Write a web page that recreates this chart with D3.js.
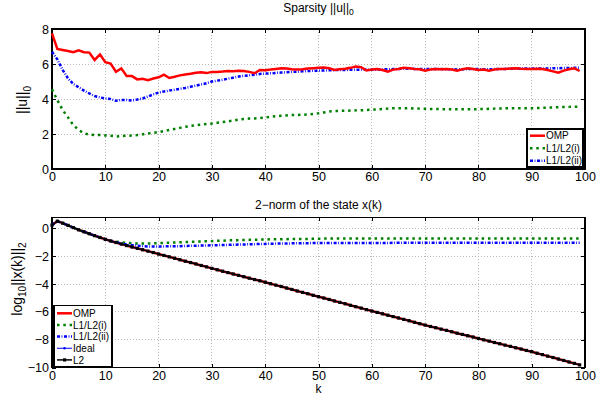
<!DOCTYPE html>
<html>
<head>
<meta charset="utf-8">
<style>
    body { margin: 0; background: #fff; }
    svg { font-family: "Liberation Sans", Arial, sans-serif; }
    .grid line {
        stroke: #b8b8b8;
        stroke-dasharray: 1,2;
        shape-rendering: crispEdges;
    }
    .frame {
        fill: none;
        stroke: #000;
        stroke-width: 1.5;
        shape-rendering: crispEdges;
    }
    .legend rect.box {
        fill: #fff;
        stroke: #000;
        stroke-width: 1.5;
        shape-rendering: crispEdges;
    }
</style>
</head>
<body>
<script src="https://cdn.jsdelivr.net/npm/d3@7/dist/d3.min.js"></script>
<script>
    // tick labels
    var kTicks = [0, 10, 20, 30, 40, 50, 60, 70, 80, 90, 100];
    var sparsityTicks = [0, 2, 4, 6, 8];
    var normTicks = [-10, -8, -6, -4, -2, 0];

    // top panel: sparsity ||u||_0, one value per k = 0..99
    var sparsityOMP = [7.75, 6.86, 6.8, 6.74, 6.67, 6.78, 6.67, 6.65, 6.23, 6.55,
        6.1, 6.02, 5.56, 5.75, 5.31, 5.31, 5.12, 5.15, 5.07, 5.17,
        5.24, 5.39, 5.2, 5.27, 5.35, 5.4, 5.44, 5.5, 5.53, 5.48,
        5.55, 5.55, 5.57, 5.6, 5.58, 5.62, 5.6, 5.55, 5.47, 5.66,
        5.65, 5.68, 5.72, 5.75, 5.74, 5.7, 5.68, 5.7, 5.74, 5.76,
        5.78, 5.8, 5.76, 5.66, 5.7, 5.73, 5.78, 5.85, 5.82, 5.63,
        5.68, 5.72, 5.66, 5.56, 5.68, 5.72, 5.79, 5.76, 5.72, 5.7,
        5.62, 5.68, 5.71, 5.7, 5.71, 5.68, 5.62, 5.7, 5.75, 5.72,
        5.66, 5.68, 5.62, 5.68, 5.71, 5.72, 5.74, 5.75, 5.73, 5.72,
        5.71, 5.73, 5.72, 5.66, 5.58, 5.5, 5.62, 5.7, 5.75, 5.6];
    var sparsityL1L2i = [4.55, 3.94, 3.37, 2.95, 2.51, 2.23, 2.04, 1.97, 1.94, 1.94,
        1.92, 1.9, 1.86, 1.88, 1.9, 1.91, 1.94, 1.98, 2.03, 2.07,
        2.11, 2.17, 2.23, 2.29, 2.35, 2.41, 2.46, 2.5, 2.54, 2.57,
        2.6, 2.64, 2.68, 2.72, 2.77, 2.82, 2.86, 2.88, 2.89, 2.91,
        2.94, 2.98, 3.02, 3.04, 3.06, 3.08, 3.09, 3.1, 3.12, 3.15,
        3.18, 3.23, 3.28, 3.31, 3.32, 3.33, 3.34, 3.35, 3.36, 3.37,
        3.39, 3.41, 3.43, 3.45, 3.47, 3.47, 3.47, 3.47, 3.46, 3.45,
        3.44, 3.43, 3.43, 3.42, 3.42, 3.42, 3.41, 3.41, 3.41, 3.41,
        3.42, 3.43, 3.44, 3.45, 3.46, 3.47, 3.47, 3.47, 3.47, 3.47,
        3.47, 3.48, 3.5, 3.51, 3.52, 3.53, 3.54, 3.55, 3.56, 3.56];
    var sparsityL1L2ii = [6.7, 6.27, 5.66, 5.18, 4.86, 4.67, 4.48, 4.32, 4.17, 4.09,
        4.03, 4.0, 3.9, 3.94, 3.94, 3.92, 3.97, 4.03, 4.14, 4.26,
        4.37, 4.43, 4.48, 4.53, 4.58, 4.63, 4.7, 4.76, 4.83, 4.9,
        5.0, 5.05, 5.1, 5.16, 5.22, 5.28, 5.32, 5.35, 5.39, 5.43,
        5.45, 5.47, 5.49, 5.51, 5.53, 5.55, 5.56, 5.58, 5.6, 5.61,
        5.62, 5.63, 5.64, 5.65, 5.66, 5.66, 5.67, 5.67, 5.68, 5.68,
        5.67, 5.68, 5.69, 5.7, 5.71, 5.72, 5.74, 5.73, 5.72, 5.72,
        5.71, 5.72, 5.72, 5.71, 5.7, 5.7, 5.69, 5.7, 5.71, 5.72,
        5.71, 5.7, 5.7, 5.71, 5.72, 5.72, 5.73, 5.73, 5.74, 5.74,
        5.75, 5.75, 5.74, 5.75, 5.76, 5.76, 5.77, 5.77, 5.78, 5.78];

    // bottom panel: log10 ||x(k)||_2, one value per k = 0..99
    // OMP, Ideal and L2 lie on top of each other in the picture, so they share one reading
    var normStable = [0.24, 0.52, 0.38, 0.22, 0.06, -0.1, -0.24, -0.38, -0.52, -0.65,
        -0.78, -0.9, -1.01, -1.12, -1.23, -1.33, -1.43, -1.53, -1.63, -1.73,
        -1.84, -1.94, -2.04, -2.14, -2.25, -2.35, -2.45, -2.55, -2.66, -2.76,
        -2.87, -2.97, -3.07, -3.17, -3.27, -3.37, -3.47, -3.57, -3.67, -3.76,
        -3.86, -3.97, -4.07, -4.17, -4.28, -4.38, -4.49, -4.59, -4.69, -4.8,
        -4.9, -5.0, -5.1, -5.21, -5.31, -5.41, -5.52, -5.62, -5.72, -5.83,
        -5.93, -6.03, -6.13, -6.23, -6.33, -6.43, -6.53, -6.63, -6.74, -6.84,
        -6.94, -7.04, -7.13, -7.23, -7.32, -7.42, -7.52, -7.61, -7.71, -7.8,
        -7.9, -8.0, -8.09, -8.19, -8.28, -8.38, -8.47, -8.57, -8.66, -8.76,
        -8.85, -8.96, -9.06, -9.17, -9.27, -9.38, -9.48, -9.59, -9.69, -9.8];
    var normOMP = normStable;
    var normIdeal = normStable;
    var normL2 = normStable;
    var normL1L2i = [0.24, 0.52, 0.38, 0.22, 0.06, -0.1, -0.24, -0.38, -0.52, -0.65,
        -0.78, -0.88, -0.95, -1.0, -1.04, -1.07, -1.08, -1.09, -1.08, -1.07,
        -1.05, -1.04, -1.02, -1.01, -0.99, -0.98, -0.96, -0.95, -0.94, -0.92,
        -0.91, -0.89, -0.88, -0.86, -0.85, -0.84, -0.83, -0.82, -0.81, -0.8,
        -0.79, -0.78, -0.78, -0.77, -0.77, -0.76, -0.76, -0.75, -0.75, -0.74,
        -0.74, -0.73, -0.73, -0.73, -0.73, -0.73, -0.73, -0.73, -0.73, -0.73,
        -0.73, -0.72, -0.72, -0.72, -0.72, -0.72, -0.72, -0.72, -0.72, -0.72,
        -0.72, -0.72, -0.72, -0.72, -0.72, -0.72, -0.72, -0.72, -0.72, -0.72,
        -0.72, -0.72, -0.72, -0.72, -0.72, -0.72, -0.72, -0.72, -0.72, -0.72,
        -0.72, -0.72, -0.72, -0.72, -0.72, -0.72, -0.72, -0.72, -0.72, -0.72];
    var normL1L2ii = [0.24, 0.52, 0.38, 0.22, 0.06, -0.1, -0.24, -0.38, -0.52, -0.65,
        -0.78, -0.9, -1.0, -1.08, -1.15, -1.2, -1.24, -1.27, -1.29, -1.3,
        -1.3, -1.29, -1.28, -1.28, -1.27, -1.26, -1.25, -1.24, -1.23, -1.22,
        -1.21, -1.2, -1.19, -1.18, -1.17, -1.16, -1.15, -1.14, -1.13, -1.12,
        -1.11, -1.1, -1.09, -1.08, -1.08, -1.07, -1.07, -1.06, -1.06, -1.05,
        -1.05, -1.04, -1.04, -1.04, -1.04, -1.04, -1.04, -1.04, -1.04, -1.04,
        -1.04, -1.04, -1.04, -1.04, -1.03, -1.03, -1.03, -1.03, -1.03, -1.03,
        -1.03, -1.03, -1.03, -1.03, -1.03, -1.03, -1.03, -1.03, -1.03, -1.03,
        -1.03, -1.03, -1.03, -1.03, -1.03, -1.03, -1.03, -1.03, -1.03, -1.03,
        -1.03, -1.03, -1.03, -1.03, -1.03, -1.03, -1.03, -1.03, -1.03, -1.03];

    var svg = d3.select('body')
        .append('svg')
        .attr('width', 611)
        .attr('height', 398);

    var plotLeft = 52, plotRight = 585;

    function makePanel(y0, y1, yDomain, yTicks) {
        var x = d3.scaleLinear().domain([0, 100]).range([plotLeft, plotRight]);
        var y = d3.scaleLinear().domain(yDomain).range([y1, y0]);
        var g = svg.append('g');

        // dotted grid at the inner ticks
        var grid = g.append('g').attr('class', 'grid');
        grid.selectAll('.gx')
            .data(kTicks.filter(function(d) { return d > 0 && d < 100; }))
            .enter().append('line')
            .attr('x1', x).attr('x2', x)
            .attr('y1', y0).attr('y2', y1);
        grid.selectAll('.gy')
            .data(yTicks.filter(function(d) { return d > yDomain[0] && d < yDomain[1]; }))
            .enter().append('line')
            .attr('x1', plotLeft).attr('x2', plotRight)
            .attr('y1', y).attr('y2', y);

        // inward ticks on all four sides
        var axes = [
            [d3.axisBottom(x).tickValues(kTicks).tickPadding(3.5), 'translate(0,' + y1 + ')'],
            [d3.axisTop(x).tickValues(kTicks).tickFormat(''), 'translate(0,' + y0 + ')'],
            [d3.axisLeft(y).tickValues(yTicks).tickPadding(3), 'translate(' + plotLeft + ',0)'],
            [d3.axisRight(y).tickValues(yTicks).tickFormat(''), 'translate(' + plotRight + ',0)']
        ];
        axes.forEach(function(a) {
            var ax = g.append('g')
                .attr('transform', a[1])
                .call(a[0].tickSize(-4).tickSizeOuter(0));
            ax.select('.domain').remove();
            ax.attr('font-family', null).attr('font-size', 12.5);
            ax.selectAll('line').attr('shape-rendering', 'crispEdges');
        });

        g.append('rect')
            .attr('class', 'frame')
            .attr('x', plotLeft).attr('y', y0)
            .attr('width', plotRight - plotLeft)
            .attr('height', y1 - y0);

        return { x: x, y: y, g: g };
    }

    function drawSeries(p, values, style) {
        var line = d3.line()
            .x(function(d, i) { return p.x(i); })
            .y(function(d) { return p.y(d); });
        p.g.append('path')
            .datum(values)
            .attr('fill', 'none')
            .attr('stroke', style.color)
            .attr('stroke-width', style.width)
            .attr('stroke-dasharray', style.dash || null)
            .attr('d', line);
        if (style.marker === 'dot') {
            p.g.selectAll(null).data(values).enter().append('circle')
                .attr('cx', function(d, i) { return p.x(i); })
                .attr('cy', p.y)
                .attr('r', 1.2)
                .attr('fill', style.color);
        }
        if (style.marker === 'square') {
            p.g.selectAll(null).data(values).enter().append('rect')
                .attr('x', function(d, i) { return p.x(i) - 1.6; })
                .attr('y', function(d) { return p.y(d) - 1.6; })
                .attr('width', 3.2).attr('height', 3.2)
                .attr('fill', style.color);
        }
    }

    function drawLegend(x0, y0, w, h, rowY, rowStep, items) {
        var lg = svg.append('g').attr('class', 'legend');
        lg.append('rect').attr('class', 'box')
            .attr('x', x0).attr('y', y0).attr('width', w).attr('height', h);
        items.forEach(function(it, i) {
            var cy = rowY + i * rowStep;
            lg.append('line')
                .attr('x1', x0 + 3).attr('x2', x0 + 18)
                .attr('y1', cy).attr('y2', cy)
                .attr('stroke', it.style.color)
                .attr('stroke-width', it.style.width)
                .attr('stroke-dasharray', it.style.dash || null);
            if (it.style.marker === 'dot') {
                lg.append('circle').attr('cx', x0 + 10.5).attr('cy', cy).attr('r', 1.2)
                    .attr('fill', it.style.color);
            }
            if (it.style.marker === 'square') {
                lg.append('rect').attr('x', x0 + 9).attr('y', cy - 1.6)
                    .attr('width', 3.2).attr('height', 3.2)
                    .attr('fill', it.style.color);
            }
            lg.append('text')
                .attr('x', x0 + 19).attr('y', cy + 3.6)
                .attr('font-size', 10)
                .text(it.name);
        });
    }

    var styleOMP = { color: '#ff0000', width: 2.5 };
    var styleI = { color: '#008000', width: 2.5, dash: '2.5,3.8' };
    var styleII = { color: '#0000ff', width: 2.5, dash: '3,1.6,0.8,1.6' };
    var styleIdeal = { color: '#0000ff', width: 1, marker: 'dot' };
    var styleL2 = { color: '#000000', width: 1.5, marker: 'square' };

    // ---- top panel ----
    var topPanel = makePanel(29, 169, [0, 8], sparsityTicks);
    drawSeries(topPanel, sparsityL1L2i, styleI);
    drawSeries(topPanel, sparsityL1L2ii, styleII);
    drawSeries(topPanel, sparsityOMP, styleOMP);

    var t1 = svg.append('text')
        .attr('x', 318.5).attr('y', 11.5)
        .attr('text-anchor', 'middle').attr('font-size', 12);
    t1.append('tspan').text('Sparsity ||u||');
    t1.append('tspan').attr('font-size', 8.5).attr('dy', 3).text('0');

    var yl1 = svg.append('text')
        .attr('transform', 'translate(27,100) rotate(-90)')
        .attr('text-anchor', 'middle').attr('font-size', 14);
    yl1.append('tspan').text('||u||');
    yl1.append('tspan').attr('font-size', 10).attr('dy', 4).text('0');

    drawLegend(527, 129, 56, 38, 135.7, 12.5, [
        { name: 'OMP', style: styleOMP },
        { name: 'L1/L2(i)', style: styleI },
        { name: 'L1/L2(ii)', style: styleII }
    ]);

    // ---- bottom panel ----
    var botPanel = makePanel(217.3, 367.7, [-10, 0.8], normTicks);
    drawSeries(botPanel, normOMP, styleOMP);
    drawSeries(botPanel, normL1L2i, styleI);
    drawSeries(botPanel, normL1L2ii, styleII);
    drawSeries(botPanel, normIdeal, styleIdeal);
    drawSeries(botPanel, normL2, styleL2);

    svg.append('text')
        .attr('x', 318.5).attr('y', 208.5)
        .attr('text-anchor', 'middle').attr('font-size', 12)
        .text('2\u2212norm of the state x(k)');

    svg.append('text')
        .attr('x', 318.5).attr('y', 393)
        .attr('text-anchor', 'middle').attr('font-size', 12)
        .text('k');

    var yl2 = svg.append('text')
        .attr('transform', 'translate(22,279) rotate(-90)')
        .attr('text-anchor', 'middle').attr('font-size', 14);
    yl2.append('tspan').text('log');
    yl2.append('tspan').attr('font-size', 10).attr('dy', 4).text('10');
    yl2.append('tspan').attr('dy', -4).text('||x(k)||');
    yl2.append('tspan').attr('font-size', 10).attr('dy', 4).text('2');

    drawLegend(54, 305.7, 58, 61, 313.3, 11.65, [
        { name: 'OMP', style: styleOMP },
        { name: 'L1/L2(i)', style: styleI },
        { name: 'L1/L2(ii)', style: styleII },
        { name: 'Ideal', style: styleIdeal },
        { name: 'L2', style: styleL2 }
    ]);
</script>
</body>
</html>
